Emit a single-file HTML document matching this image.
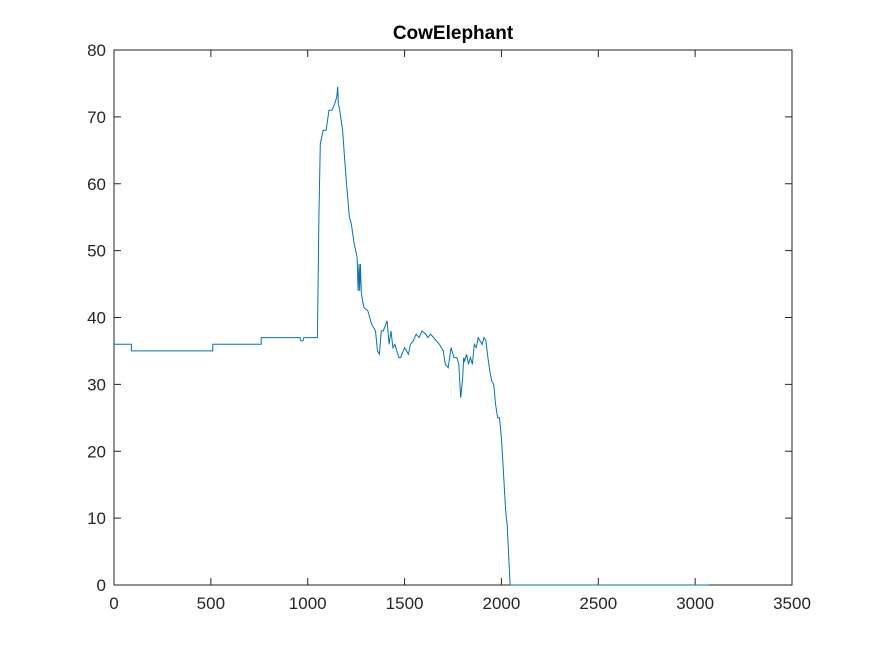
<!DOCTYPE html>
<html><head><meta charset="utf-8"><style>
body{margin:0;background:#fff;}
svg text{font-family:"Liberation Sans",Arial,sans-serif;}
</style></head><body>
<svg id="chart" width="875" height="656" xmlns="http://www.w3.org/2000/svg">
<rect width="875" height="656" fill="#fff"/>
<text x="453" y="39" text-anchor="middle" font-size="19" font-weight="bold" fill="#000">CowElephant</text>
<g id="axes"></g>
</svg>
<script>
const xVals=[0,90,90,510,510,760,760,960,965,975,980,1050,1058,1065,1080,1095,1110,1125,1140,1150,1155,1158,1165,1180,1190,1200,1215,1225,1240,1255,1260,1265,1268,1272,1276,1280,1290,1310,1330,1350,1360,1370,1380,1390,1410,1420,1430,1440,1450,1460,1470,1480,1500,1520,1530,1545,1560,1575,1590,1610,1620,1635,1650,1665,1680,1700,1710,1725,1740,1755,1770,1780,1790,1800,1805,1810,1820,1830,1840,1850,1860,1870,1880,1900,1910,1920,1930,1940,1950,1960,1970,1980,1990,2000,2010,2020,2025,2030,2045,3070];
const yVals=[36,36,35,35,36,36,37,37,36.5,36.5,37,37,55,66,68,68,71,71,72,73,74.5,72,71,68,64,60,55,54,51,49,44,48,44,48,44,43,41.5,41,39,38,35,34.5,38,38,39.5,36,38,35.5,36,35,34,34,35.5,34.5,36,36.5,37.5,37,38,37.5,37,37.5,37,36.5,36,35,33,32.5,35.5,34,34,33,28,31,34,33.5,34.5,33,34,33,36,35.5,37,36,37,36.5,34,32,30.5,30,27,25,25,22,17,12,10,9,0,0];
const xTicks=[0,500,1000,1500,2000,2500,3000,3500];
const yTicks=[0,10,20,30,40,50,60,70,80];
const L=114,R=792,T=50,B=585;
const sx=v=>L+(v/3500)*(R-L);
const sy=v=>B-(v/80)*(B-T);
const ns="http://www.w3.org/2000/svg";
const g=document.getElementById('axes');
function mk(t,a){const e=document.createElementNS(ns,t);for(const k in a)e.setAttribute(k,a[k]);g.appendChild(e);return e;}
const box=mk('rect',{x:L,y:T,width:R-L,height:B-T,fill:'none',stroke:'#262626','stroke-width':1});


xTicks.forEach(v=>{
 mk('line',{x1:sx(v),x2:sx(v),y1:B,y2:B-7,stroke:'#262626'});
 mk('line',{x1:sx(v),x2:sx(v),y1:T,y2:T+7,stroke:'#262626'});
 const t=mk('text',{x:sx(v),y:B+24,'text-anchor':'middle','font-size':17,fill:'#262626'});t.textContent=v;
 
 
});
yTicks.forEach(v=>{
 mk('line',{x1:L,x2:L+7,y1:sy(v),y2:sy(v),stroke:'#262626'});
 mk('line',{x1:R,x2:R-7,y1:sy(v),y2:sy(v),stroke:'#262626'});
 const t=mk('text',{x:L-8,y:sy(v)+6,'text-anchor':'end','font-size':17,fill:'#262626'});t.textContent=v;
 
 
});
const d=xVals.map((x,i)=>(i?'L':'M')+sx(x).toFixed(1)+','+sy(yVals[i]).toFixed(1)).join(' ');
const p=mk('path',{d:d,fill:'none',stroke:'#0072BD','stroke-width':1});


</script>
</body></html>
